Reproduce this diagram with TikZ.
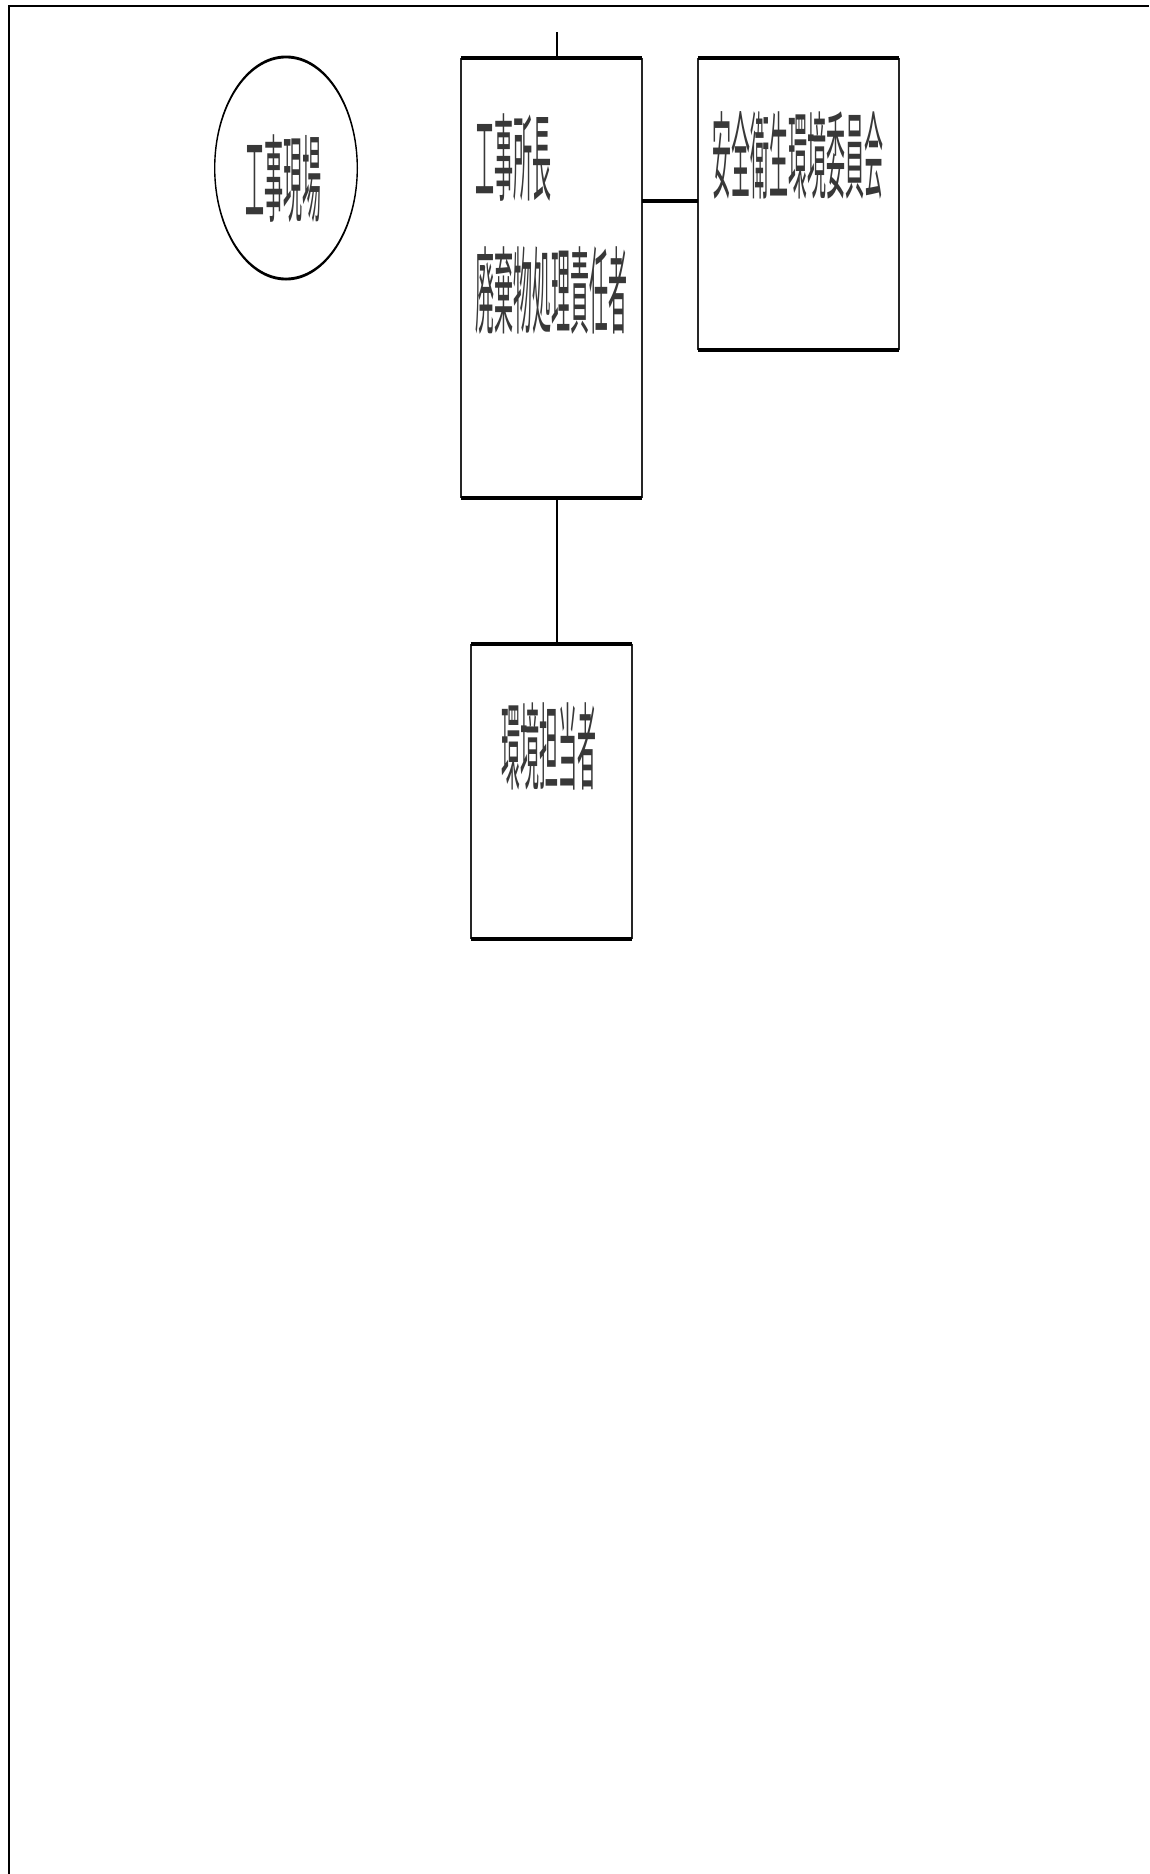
\documentclass[tikz,border=0pt]{standalone}
\usepackage{fontspec}
\newfontfamily\cjk{Noto Sans CJK JP}
\usetikzlibrary{shapes.geometric,calc}
\tikzset{
  boxnode/.style={rectangle, draw=none, inner sep=0pt},
  lbl/.style={inner sep=0pt, font=\cjk\fontsize{19}{19}\selectfont, text=black!78},
  side/.style={line width=1.5pt, black!85},
  bar/.style={line width=4pt, black},
  link/.style={line width=1.2pt, black},
  thicklink/.style={line width=4pt, black},
  frame/.style={line width=2pt, black}
}
\newcommand{\tall}[1]{\scalebox{1}[5]{#1}}
\begin{document}
\begin{tikzpicture}[x=1pt,y=-1pt]
\useasboundingbox (0,0) rectangle (1149,1874);
\fill[white] (0,0) rectangle (1149,1874);
% outer frame (top and left only)
\draw[frame] (8.7,1874) -- (8.7,5.7) -- (1149,5.7);

% site ellipse
\node[ellipse, draw=none, minimum width=143pt, minimum height=222pt] (site) at (286,168) {};
\fill[even odd rule] (site.center) ellipse [x radius=72pt, y radius=112.5pt]
                     (site.center) ellipse [x radius=70.6pt, y radius=109.6pt];
\node[lbl] (sitelbl) at (283,179) {\tall{工事現場}};

% box 1
\node[boxnode, minimum width=181pt, minimum height=439.5pt] (b1) at (551.5,278.25) {};
\draw[side] (b1.north west) -- (b1.south west) (b1.north east) -- (b1.south east);
\draw[bar] (b1.north west) -- (b1.north east) (b1.south west) -- (b1.south east);
\node[lbl, anchor=west] (b1a) at (475,158) {\tall{工事所長}};
\node[lbl, anchor=west] (b1b) at (475,291) {\tall{廃棄物処理責任者}};

% box 2
\node[boxnode, minimum width=201pt, minimum height=291pt] (b2) at (798.5,204) {};
\draw[side] (b2.north west) -- (b2.south west) (b2.north east) -- (b2.south east);
\draw[bar] (b2.north west) -- (b2.north east) (b2.south west) -- (b2.south east);
\node[lbl] (b2a) at (797.5,155) {\tall{安全衛生環境委員会}};

% box 3
\node[boxnode, minimum width=161pt, minimum height=295pt] (b3) at (551.5,791.5) {};
\draw[side] (b3.north west) -- (b3.south west) (b3.north east) -- (b3.south east);
\draw[bar] (b3.north west) -- (b3.north east) (b3.south west) -- (b3.south east);
\node[lbl] (b3a) at (549,746) {\tall{環境担当者}};

% connectors
\coordinate (top) at (557,32);
\coordinate (mid) at (0,201);
\draw[link] (top) -- (top |- b1.north);
\draw[link] (top |- b1.south) -- (top |- b3.north);
\draw[thicklink] (b1.east |- mid) -- (b2.west |- mid);
\end{tikzpicture}
\end{document}
